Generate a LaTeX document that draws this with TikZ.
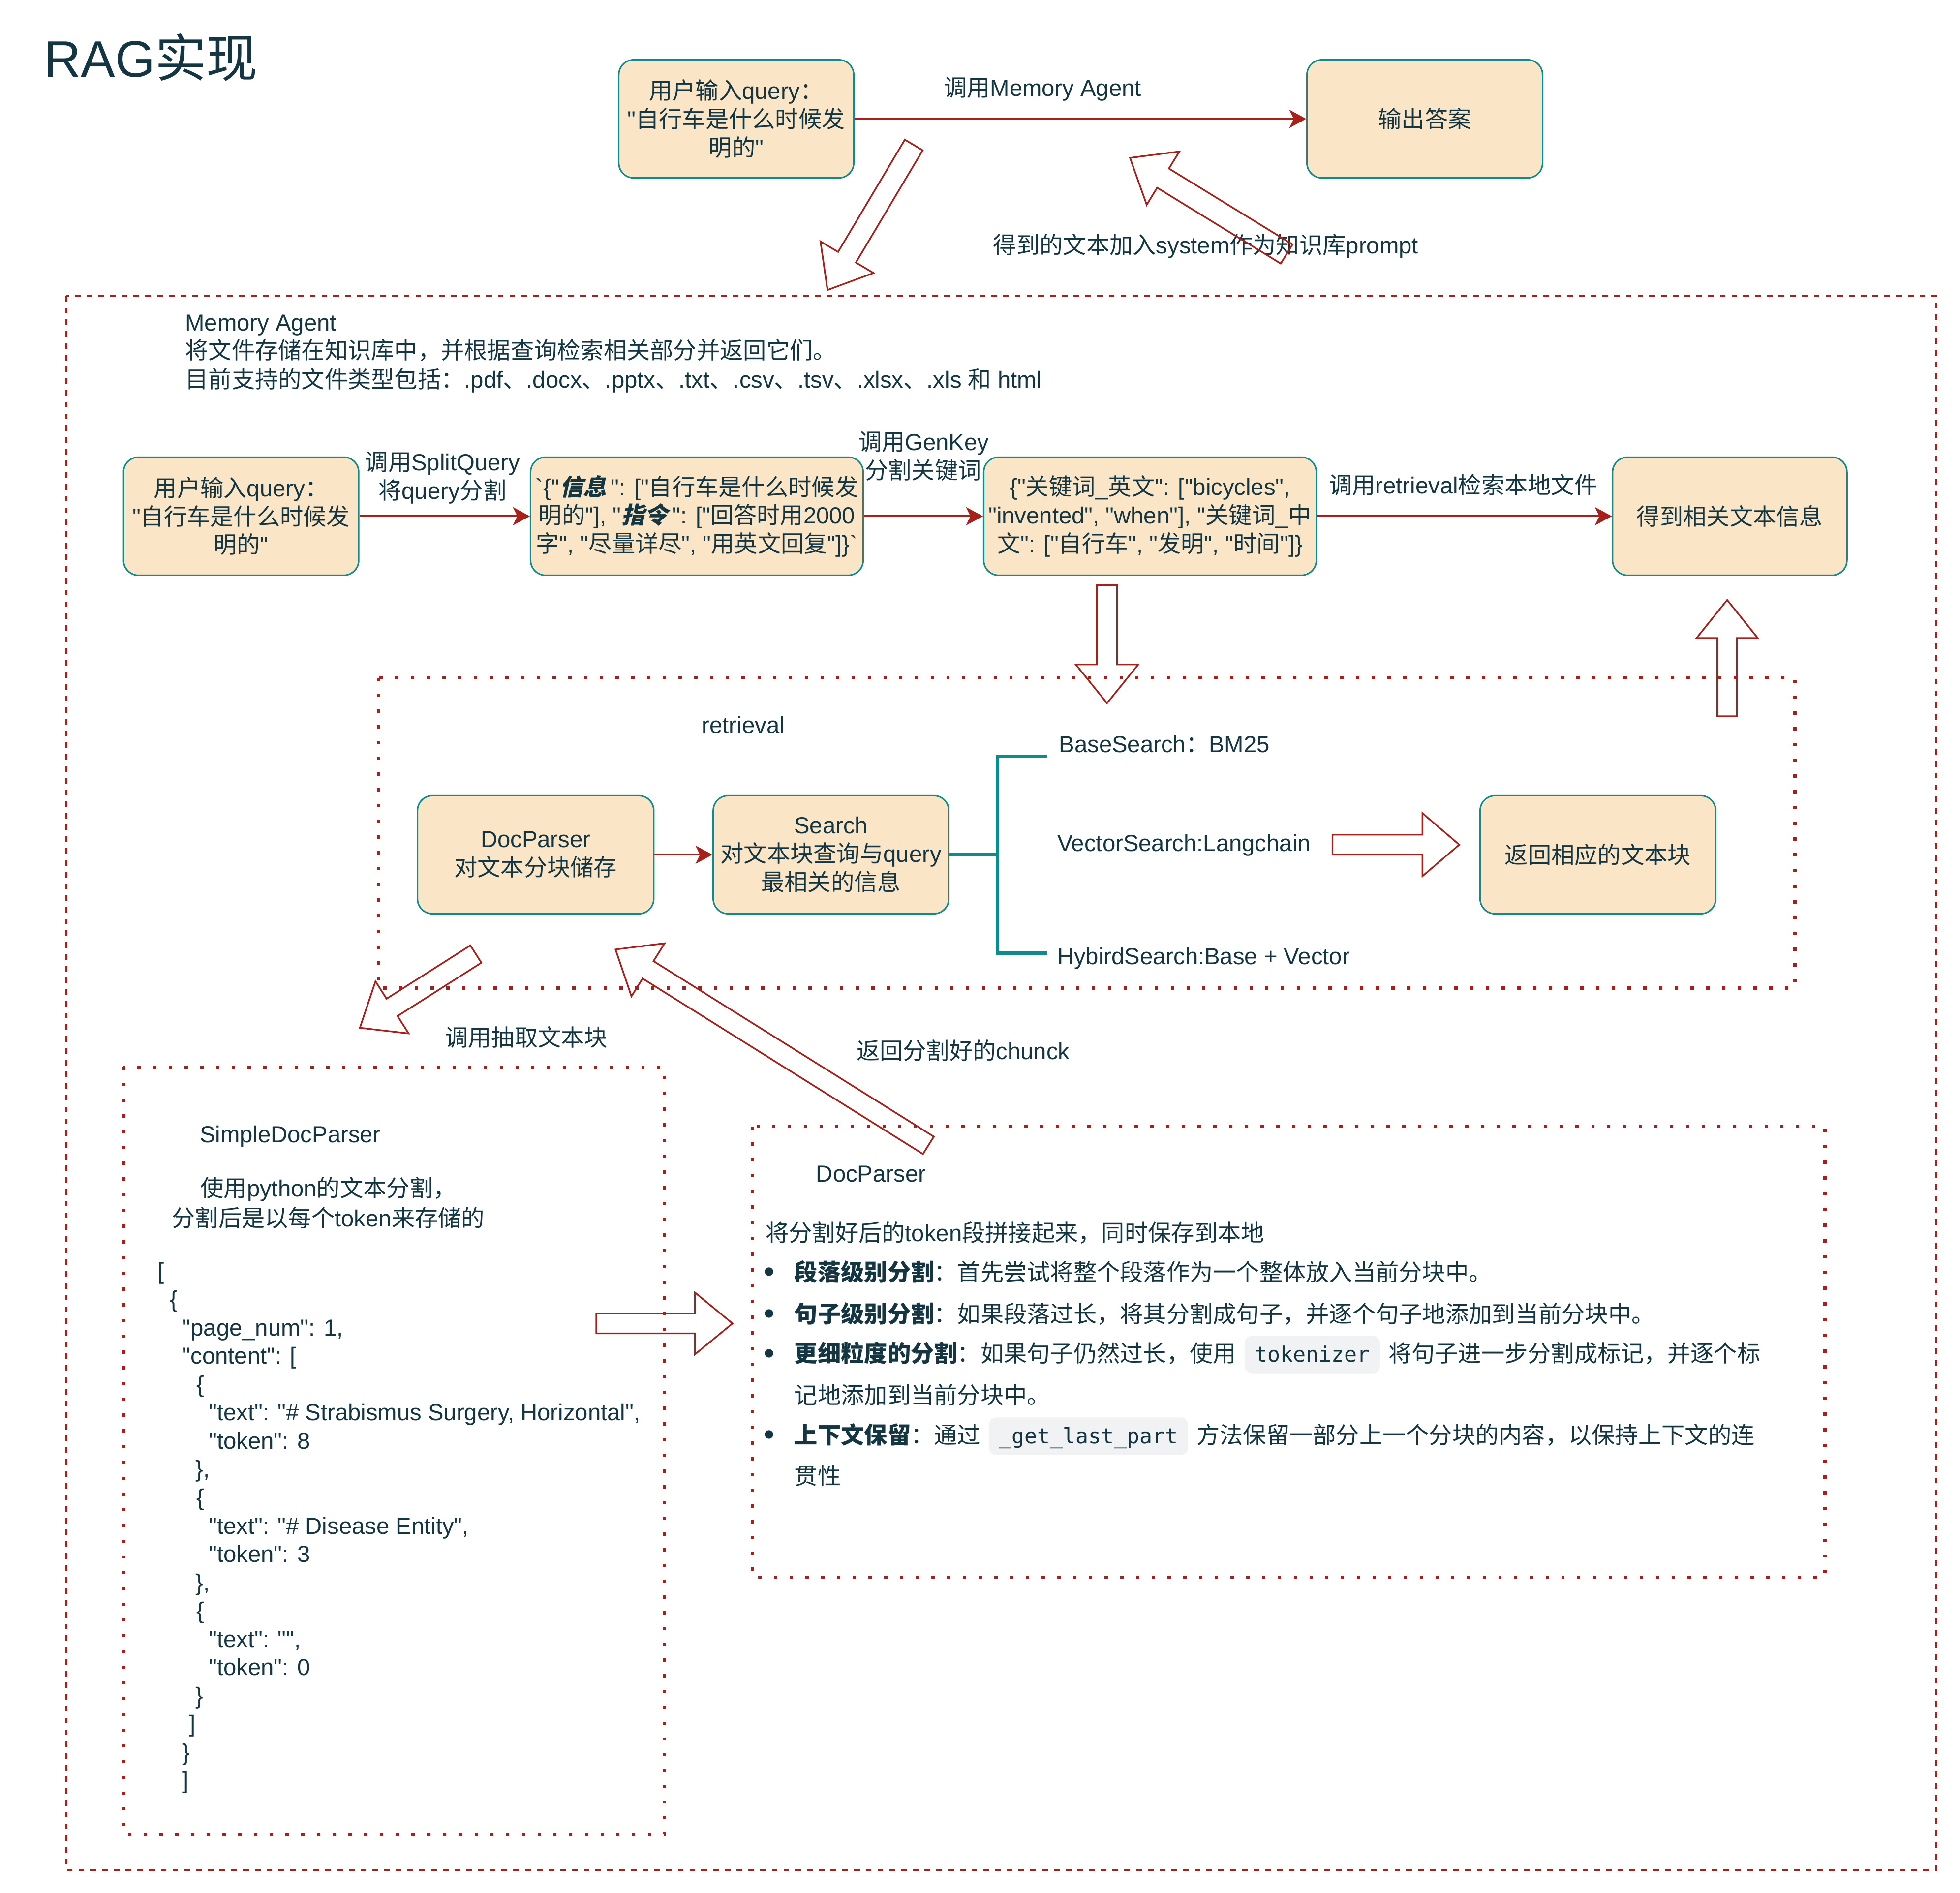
\documentclass[tikz,border=0pt]{standalone}
\usepackage{fontspec}
\setmainfont{Liberation Sans}[Ligatures=TeXOff]
\newfontfamily\cjkfam{Noto Sans CJK SC}[AutoFakeSlant=0.2]
\newfontfamily\codefont{DejaVu Sans Mono}
\usetikzlibrary{arrows.meta,calc}
% automatic switch between Latin and CJK fonts
\newXeTeXintercharclass\CJKcls
\count255="3000
\loop\XeTeXcharclass\count255=\CJKcls\relax
\ifnum\count255<"9FFF \advance\count255 by 1 \repeat
\count255="FF00
\loop\XeTeXcharclass\count255=\CJKcls\relax
\ifnum\count255<"FFEF \advance\count255 by 1 \repeat
\XeTeXinterchartoks 0 \CJKcls = {\cjkfam}
\XeTeXinterchartoks 4095 \CJKcls = {\cjkfam}
\XeTeXinterchartoks \CJKcls 0 = {\rmfamily}
\XeTeXinterchartoks \CJKcls 4095 = {\rmfamily}
\XeTeXinterchartokenstate=1
\definecolor{boxfill}{HTML}{FAE5C7}
\definecolor{myteal}{HTML}{0F8B8D}
\definecolor{myred}{HTML}{A8201A}
\definecolor{txt}{HTML}{143642}
\definecolor{codebg}{HTML}{F1F2F4}
\tikzset{
  box/.style={draw=myteal, line width=1.2pt, fill=boxfill, rounded corners=12pt,
    minimum height=94.5pt, inner sep=0pt, align=center, text=txt},
  conn/.style={draw=myred, line width=1.6pt, -{Stealth[length=13.5pt,width=14.5pt,inset=3.5pt]}},
  lbl/.style={text=txt, inner sep=0pt},
  lline/.style={lbl, anchor=base west},
  clbl/.style={lbl, anchor=base},
  bul/.style={lbl, anchor=base, font=\fontsize{25pt}{25pt}\selectfont},
  outerbox/.style={draw=myred, line width=1.6pt, dash pattern=on 4.6pt off 4.8pt},
  dotbox/.style={draw=myred, line width=2.6pt, dash pattern=on 2.6pt off 10pt},
  hollow/.style={draw=myred, line width=1.3pt, line join=miter},
  bracket/.style={draw=myteal, line width=3pt}
}
\newcommand\barrow[5]{%
  \coordinate (bn) at ($(#2)!#5!(#1)$);
  \draw[hollow] ($(#1)!#3!90:(#2)$) -- ($(bn)!#3!90:(#2)$) -- ($(bn)!#4!90:(#2)$) -- (#2)
    -- ($(bn)!#4!-90:(#2)$) -- ($(bn)!#3!-90:(#2)$) -- ($(#1)!#3!-90:(#2)$) -- cycle;}
\newcommand\codechip[3]{\tikz[baseline=(#1.base)]\node[fill=codebg, rounded corners=6pt,
  minimum width=0pt, minimum height=0pt, draw=none,
  inner xsep=8pt, inner ysep=0pt, text height=#3pt, text depth=\the\numexpr30-#3\relax pt, text=txt,
  font=\codefont\fontsize{17pt}{20pt}\selectfont] (#1) {#2};}
\newcommand\bislant[2]{\tikz[baseline=(#1.base)]\node[inner sep=0pt, minimum width=0pt,
  minimum height=0pt, draw=none, fill=none, xslant=0.22, transform shape, text=txt] (#1) {\textbf{#2}};}
\begin{document}
\begin{tikzpicture}[x=1pt,y=-1pt,font=\fontsize{18.6pt}{22.7pt}\selectfont]
\useasboundingbox (0,0) rectangle (1568,1514.4);
\fill[white] (0,0) rectangle (1568,1514.4);

% title
\node[lline, font=\fontsize{41pt}{48pt}\selectfont] (title) at (35,61.4) {RAG实现};

% top row
\node[box, minimum width=188pt] (A) at (589,95.1) {用户输入query：\\"自行车是什么时候发\\明的"};
\node[box, minimum width=188.5pt] (B) at (1139.8,95.1) {输出答案};
\draw[conn] (A.east) -- (B.west);
\node[clbl] (lmem) at (834,77) {调用Memory Agent};
\node[clbl] (lsys) at (964.6,202.7) {得到的文本加入system作为知识库prompt};
\coordinate (a1t) at (731,116); \coordinate (a1h) at (662,232);
\barrow{a1t}{a1h}{8.3pt}{24.7pt}{30.5pt}
\coordinate (a2t) at (1029.3,203.2); \coordinate (a2h) at (904,126.3);
\barrow{a2t}{a2h}{9pt}{25pt}{31pt}

% Memory Agent outer box
\draw[outerbox] (53,236.8) rectangle (1549,1496);
\node[lline] (ma1) at (148,264.5) {Memory Agent};
\node[lline] (ma2) at (148,287.2) {将文件存储在知识库中，并根据查询检索相关部分并返回它们。};
\node[lline] (ma3) at (148,310.5) {目前支持的文件类型包括：.pdf、.docx、.pptx、.txt、.csv、.tsv、.xlsx、.xls 和 html};

% second row
\node[box, minimum width=188.2pt] (C) at (192.9,413) {用户输入query：\\"自行车是什么时候发\\明的"};
\node[box, minimum width=266.1pt] (D) at (557.5,413) {\symbol{96}\{"\bislant{si1}{信息}": ["自行车是什么时候发\\明的"], "\bislant{si2}{指令}": ["回答时用2000\\字", "尽量详尽", "用英文回复"]\}\symbol{96}};
\node[box, minimum width=266.1pt] (E) at (920,413) {\{"关键词\_英文": ["bicycles",\\"invented", "when"], "关键词\_中\\文": ["自行车", "发明", "时间"]\}};
\node[box, minimum width=187.5pt] (F) at (1383.8,413) {得到相关文本信息};
\draw[conn] (C.east) -- (D.west);
\draw[conn] (D.east) -- (E.west);
\draw[conn] (E.east) -- (F.west);
\node[clbl] (ls1) at (354,376.5) {调用SplitQuery};
\node[clbl] (ls2) at (354,399.3) {将query分割};
\node[clbl] (lg1) at (739,360.5) {调用GenKey};
\node[clbl] (lg2) at (738.5,383.3) {分割关键词};
\node[clbl] (lr) at (1170.6,395) {调用retrieval检索本地文件};

% retrieval box
\draw[dotbox] (302.7,542.4) rectangle (1436,790.5);
\node[clbl] (lret) at (594.6,586.8) {retrieval};
\coordinate (a3t) at (885.6,468); \coordinate (a3h) at (885.6,562.6);
\barrow{a3t}{a3h}{8.1pt}{25pt}{31pt}
\coordinate (a4t) at (1381.7,573); \coordinate (a4h) at (1381.7,480);
\barrow{a4t}{a4h}{7.8pt}{24.5pt}{30.5pt}
\node[box, minimum width=189pt] (G) at (428.5,683.8) {DocParser\\对文本分块储存};
\node[box, minimum width=188.5pt] (H) at (664.8,683.8) {Search\\对文本块查询与query\\最相关的信息};
\node[box, minimum width=188.5pt] (I) at (1278.3,683.8) {返回相应的文本块};
\draw[conn] (G.east) -- (H.west);
\coordinate (bm) at (797.9,683.8);
\coordinate (bt) at (837.5,605.1);
\coordinate (bb) at (837.5,762.6);
\draw[bracket] (H.east) -- (bm);
\draw[bracket] (bt) -| (bm) |- (bb);
\node[lline] (s1) at (847,602) {BaseSearch：BM25};
\node[lline] (s2) at (845.6,681) {VectorSearch:Langchain};
\node[lline] (s3) at (845.6,771.7) {HybirdSearch:Base + Vector};
\coordinate (a5t) at (1066,675.8); \coordinate (a5h) at (1167.4,675.8);
\barrow{a5t}{a5h}{8pt}{25.2pt}{29.5pt}

% arrows between retrieval and parser boxes
\coordinate (a6t) at (380.7,763.3); \coordinate (a6h) at (287.9,822.3);
\barrow{a6t}{a6h}{8.2pt}{24.7pt}{30.5pt}
\coordinate (a7t) at (742.7,916.3); \coordinate (a7h) at (492.4,759.6);
\barrow{a7t}{a7h}{8.2pt}{25pt}{30.7pt}
\node[clbl] (lex) at (421,837) {调用抽取文本块};
\node[clbl] (lch) at (770.5,847.7) {返回分割好的chunck};

% SimpleDocParser box
\draw[dotbox] (98.9,853.7) rectangle (531.3,1467.6);
\node[lline] (sp0) at (159.6,914) {SimpleDocParser};
\node[lline] (sp1) at (160.2,957.4) {使用python的文本分割，};
\node[lline] (sp2) at (137.4,981.2) {分割后是以每个token来存储的};
\node[lline] (j0) at (126,1023.3) {[};
\node[lline] (j1) at (135.8,1045.95) {\{};
\node[lline] (j2) at (145.7,1068.6) {"page\_num": 1,};
\node[lline] (j3) at (145.7,1091.25) {"content": [};
\node[lline] (j4) at (157,1113.9) {\{};
\node[lline] (j5) at (166.8,1136.55) {"text": "\# Strabismus Surgery, Horizontal",};
\node[lline] (j6) at (166.8,1159.2) {"token": 8};
\node[lline] (j7) at (156.3,1181.85) {\},};
\node[lline] (j8) at (157,1204.5) {\{};
\node[lline] (j9) at (166.8,1227.15) {"text": "\# Disease Entity",};
\node[lline] (j10) at (166.8,1249.8) {"token": 3};
\node[lline] (j11) at (156.3,1272.45) {\},};
\node[lline] (j12) at (157,1295.1) {\{};
\node[lline] (j13) at (166.8,1317.75) {"text": "",};
\node[lline] (j14) at (166.8,1340.4) {"token": 0};
\node[lline] (j15) at (156.3,1363.05) {\}};
\node[lline] (j16) at (151.1,1385.7) {]};
\node[lline] (j17) at (145.7,1408.35) {\}};
\node[lline] (j18) at (145.7,1431) {]};
\coordinate (a8t) at (477,1058.8); \coordinate (a8h) at (586,1058.8);
\barrow{a8t}{a8h}{8pt}{24.7pt}{30pt}

% DocParser box
\draw[dotbox] (601.8,901.3) rectangle (1460,1262);
\node[lline] (dpt) at (652.7,945.5) {DocParser};
\node[lline] (dp0) at (612.3,993) {将分割好后的token段拼接起来，同时保存到本地};
\node[bul] (b1) at (615.2,1026) {•};
\node[bul] (b2) at (615.2,1059.3) {•};
\node[bul] (b3) at (615.2,1091) {•};
\node[bul] (b4) at (615.2,1156.3) {•};
\node[lline] (dp1) at (635.4,1024.7) {\textbf{段落级别分割}：首先尝试将整个段落作为一个整体放入当前分块中。};
\node[lline] (dp2) at (635.4,1058) {\textbf{句子级别分割}：如果段落过长，将其分割成句子，并逐个句子地添加到当前分块中。};
\node[lline] (dp3) at (635.4,1089.7) {\textbf{更细粒度的分割}：如果句子仍然过长，使用\hspace{6.8pt}\codechip{cA}{tokenizer}{21}\hspace{6.8pt}将句子进一步分割成标记，并逐个标};
\node[lline] (dp4) at (635.4,1123) {记地添加到当前分块中。};
\node[lline] (dp5) at (635.4,1155) {\textbf{上下文保留}：通过\hspace{6.8pt}\codechip{cB}{\_get\_last\_part}{21}\hspace{6.8pt}方法保留一部分上一个分块的内容，以保持上下文的连};
\node[lline] (dp6) at (635.4,1187.4) {贯性};
\end{tikzpicture}
\end{document}
